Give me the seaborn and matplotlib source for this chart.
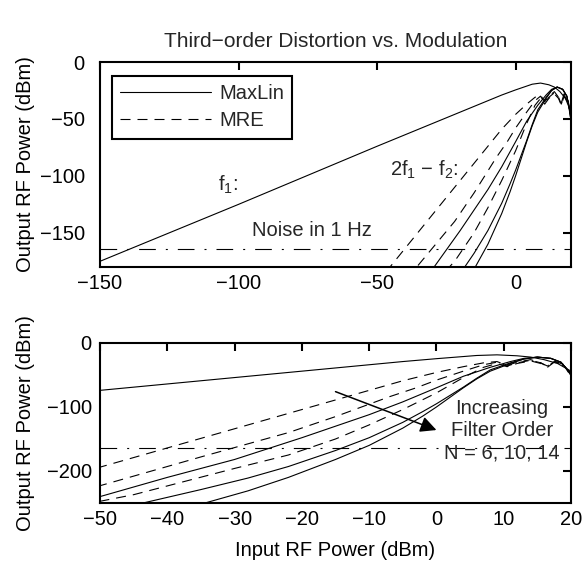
import numpy as np
import pandas as pd
import matplotlib
matplotlib.use("Agg")
import matplotlib.pyplot as plt
import seaborn as sns
from matplotlib.lines import Line2D

# ---------------- data ----------------
f1_x = [-150, -100, -50, -20, -10, -5, 0, 3, 6, 9, 12, 14, 16, 18, 20]
f1_y = [-175, -125, -74, -44, -34, -29, -24.5, -22, -19.5, -18.5, -20, -22, -26, -32, -44]

# MaxLin (solid), N = 6, 10, 14
s6_x = [-70, -50, -40, -30, -20, -10, -5, 0, 4, 8, 11, 13, 15, 17, 18.5, 20]
s6_y = [-300, -240, -210, -182, -148, -112, -92, -70, -52, -38, -29, -24, -22, -24, -30, -48]
s10_x = [-60, -43.6, -35, -28, -22, -15, -10, -5, -2, 0, 2, 4, 6, 8, 11, 13, 15, 17, 18.5, 20]
s10_y = [-290, -250, -229, -211, -193, -168, -148, -124, -107, -95, -82, -69, -55, -42, -31, -25, -22, -24, -30, -48]
s14_x = [-50, -34.4, -28, -22, -15, -10, -5, -2, 0, 2, 4, 6, 8, 11, 13, 15, 17, 18.5, 20]
s14_y = [-290, -250, -231, -210, -182, -160, -133, -114, -100, -85, -70, -56, -44, -32, -25, -22, -24, -30, -48]

# MRE (dashed), N = 6, 10, 14
d6_x = [-70, -50, -40, -30, -20, -10, -5, 0, 4, 7, 9, 10.5, 12, 14, 15.5, 16.5, 17.5, 19, 20]
d6_y = [-254, -194, -164, -134, -104, -74, -59, -46, -37, -31, -29, -35, -30, -26, -31, -36, -28, -34, -50]
d10_x = [-70, -50, -35, -22, -15, -7, -3, 0, 4, 7, 9, 10.5, 12, 14, 15.5, 16.5, 17.5, 19, 20]
d10_y = [-283, -223, -178, -140, -115, -84, -70, -58, -44, -34, -30, -36, -31, -27, -31, -37, -29, -35, -51]
d14_x = [-60, -45, -30, -22, -15, -10, -5, 0, 4, 7, 9, 10.5, 12, 14, 15.5, 16.5, 17.5, 19, 20]
d14_y = [-268, -237, -196, -175, -150, -128, -104, -78, -54, -38, -32, -37, -32, -28, -32, -38, -30, -36, -52]

noise_level = -164

legend_labels = ["MaxLin", "MRE"]
top_xticks = [-150, -100, -50, 0]
top_yticks = [0, -50, -100, -150]
bot_xticks = [-50, -40, -30, -20, -10, 0, 10, 20]
bot_yticks = [0, -100, -200]

# ---------------- style ----------------
sns.set_theme(style="white")
plt.rcParams["font.family"] = ["Liberation Sans", "DejaVu Sans"]
plt.rcParams["mathtext.default"] = "regular"
plt.rcParams["axes.unicode_minus"] = True

FS = 14.5
LW = 0.8
DASH = (9, 6.3)
DASHDOT = (15, 9, 1.8, 9)

curves = [
    ("f1", f1_x, f1_y, "solid"),
    ("s6", s6_x, s6_y, "solid"),
    ("s10", s10_x, s10_y, "solid"),
    ("s14", s14_x, s14_y, "solid"),
    ("d6", d6_x, d6_y, "dash"),
    ("d10", d10_x, d10_y, "dash"),
    ("d14", d14_x, d14_y, "dash"),
]
frames = []
for name, xs, ys, st in curves:
    frames.append(pd.DataFrame({"x": xs, "y": ys, "curve": name, "style": st}))
df = pd.concat(frames, ignore_index=True)

W, H = 585, 568
fig = plt.figure(figsize=(W / 100, H / 100), dpi=100)
ax1 = fig.add_axes([100 / W, 1 - 267 / H, 471 / W, 205 / H])
ax2 = fig.add_axes([100 / W, 1 - 503 / H, 471 / W, 160 / H])


def draw(ax):
    for name, xs, ys, st in curves:
        sub = df[df["curve"] == name]
        sns.lineplot(data=sub, x="x", y="y", ax=ax, color="black", lw=LW,
                     sort=False, estimator=None, legend=False)
        line = ax.lines[-1]
        if st == "dash":
            line.set_dashes(DASH)
    ax.axhline(noise_level, color="black", lw=LW, dashes=DASHDOT)
    for sp in ax.spines.values():
        sp.set_visible(True)
        sp.set_linewidth(1.5)
        sp.set_color("black")
    ax.tick_params(direction="in", length=5.8, width=1.5, top=True, right=True,
                   labelsize=FS, colors="black")
    ax.set_xlabel("")
    ax.set_ylabel("Output RF Power (dBm)", fontsize=FS, color="black")
    ax.grid(False)


draw(ax1)
draw(ax2)

ax1.set_xlim(-150, 20)
ax1.set_ylim(-180, 0)
ax1.set_xticks(top_xticks)
ax1.set_yticks(top_yticks)
ax1.tick_params(axis="y", pad=11)
ax1.tick_params(axis="x", pad=5)
ax1.set_title("Third\u2212order Distortion vs. Modulation", fontsize=15, pad=11)

ax2.set_xlim(-50, 20)
ax2.set_ylim(-250, 0)
ax2.set_xticks(bot_xticks)
ax2.set_yticks(bot_yticks)
ax2.tick_params(axis="y", pad=6)
ax2.tick_params(axis="x", pad=5)
ax2.set_xlabel("Input RF Power (dBm)", fontsize=FS, color="black", labelpad=9)

ax1.yaxis.set_label_coords(-0.138, 0.5)
ax2.yaxis.set_label_coords(-0.138, 0.5)

# legend
handles = [Line2D([], [], color="black", lw=LW),
           Line2D([], [], color="black", lw=LW, dashes=DASH)]
leg = ax1.legend(handles, legend_labels, loc="upper left",
                 bbox_to_anchor=(0.0255, 0.932), borderaxespad=0,
                 fontsize=FS, handlelength=4.5, handletextpad=0.4,
                 labelspacing=0.4, borderpad=0.42, fancybox=False,
                 framealpha=1, edgecolor="black")
leg.get_frame().set_linewidth(1.5)

# annotations
ax1.text(-107.4, -113.4, "f$_1$:", fontsize=FS, va="baseline", ha="left")
ax1.text(-45.2, -100, "2f$_1$ \u2212 f$_2$:", fontsize=FS, va="baseline", ha="left")
ax1.text(-95, -152.4, "Noise in 1 Hz", fontsize=FS, va="baseline", ha="left")

ax2.text(9.7, -137.5, "Increasing\nFilter Order\nN = 6, 10, 14", fontsize=FS,
         ha="center", va="center", linespacing=1.22)
ax2.annotate("", xy=(0, -136), xytext=(-15, -76),
             arrowprops=dict(arrowstyle="-|>", color="black", lw=1.1,
                             mutation_scale=24, shrinkA=0, shrinkB=0))

fig.savefig("out.png", dpi=100, facecolor="white")
